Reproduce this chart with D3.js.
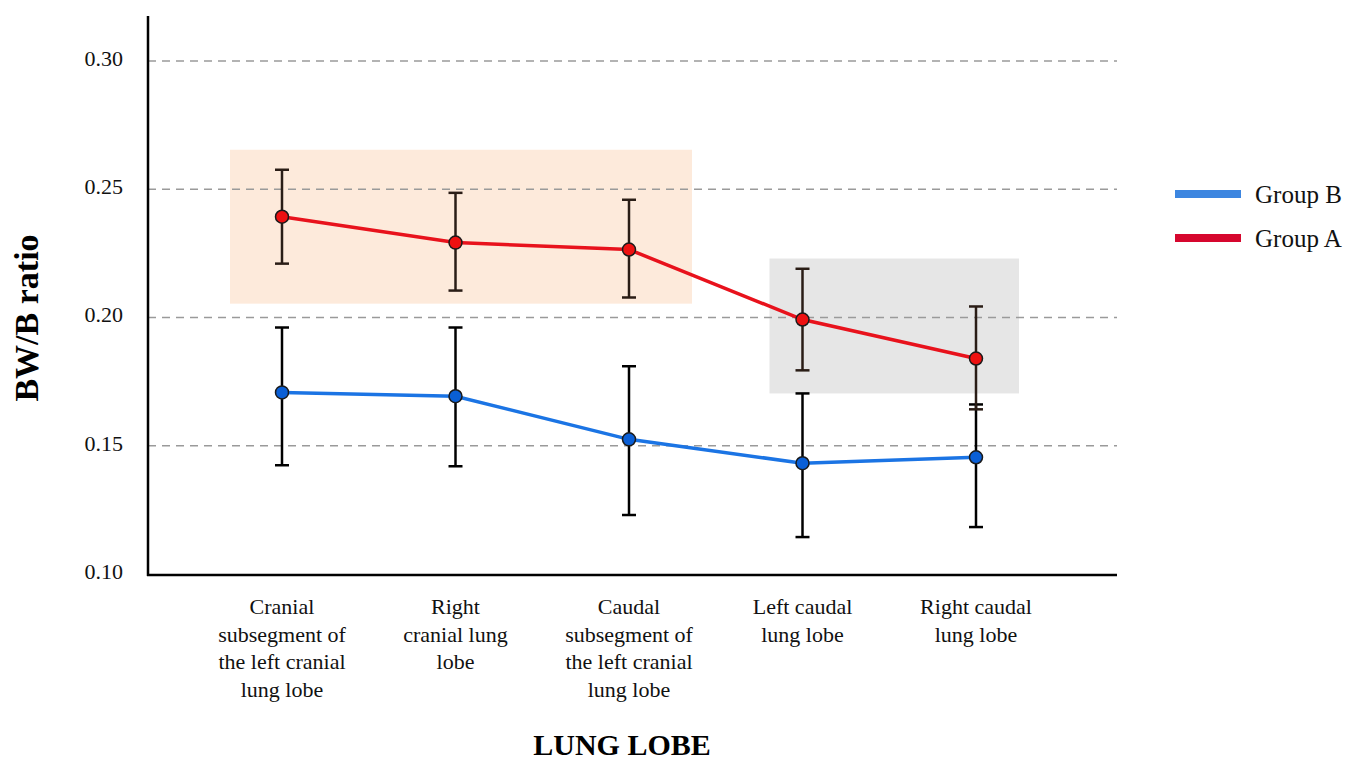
<!DOCTYPE html>
<html><head><meta charset="utf-8">
<script src="https://cdn.jsdelivr.net/npm/d3@7"></script>
<style>body{margin:0;background:#fff}svg{display:block}</style>
</head><body>
<svg id="c" width="1348" height="763"></svg>
<script>
const categories = [
  ["Cranial","subsegment of","the left cranial","lung lobe"],
  ["Right","cranial lung","lobe"],
  ["Caudal","subsegment of","the left cranial","lung lobe"],
  ["Left caudal","lung lobe"],
  ["Right caudal","lung lobe"]
];
const groupA = [0.2393, 0.2292, 0.2265, 0.1992, 0.1840];
const groupAHigh = [0.2576, 0.2486, 0.2459, 0.2190, 0.2043];
const groupALow = [0.2210, 0.2105, 0.2078, 0.1794, 0.1642];
const groupB = [0.1708, 0.1693, 0.1525, 0.1432, 0.1455];
const groupBHigh = [0.1961, 0.1961, 0.1810, 0.1704, 0.1661];
const groupBLow = [0.1424, 0.1420, 0.1230, 0.1144, 0.1183];
const yTicks = [0.10, 0.15, 0.20, 0.25, 0.30];
const legendLabels = ["Group B", "Group A"];
const highlightA = {from: 0, to: 2, top: 0.2654, bottom: 0.2054};
const highlightB = {from: 3, to: 4, top: 0.2230, bottom: 0.1704};

const svg = d3.select("#c");
const x = d3.scalePoint().domain(d3.range(categories.length)).range([282, 976]);
const y = d3.scaleLinear().domain([0.10, 0.30]).range([574, 61]);
const font = "'Liberation Serif','Times New Roman',serif";

// highlight boxes
svg.append("rect").attr("x", x(highlightA.from) - 52).attr("width", x(highlightA.to) - x(highlightA.from) + 115)
  .attr("y", y(highlightA.top)).attr("height", y(highlightA.bottom) - y(highlightA.top)).attr("fill", "#fdeadb");
svg.append("rect").attr("x", x(highlightB.from) - 33).attr("width", x(highlightB.to) - x(highlightB.from) + 76)
  .attr("y", y(highlightB.top)).attr("height", y(highlightB.bottom) - y(highlightB.top)).attr("fill", "#e6e6e6");

// gridlines
svg.append("g").selectAll("line").data(yTicks.slice(1)).join("line")
  .attr("x1", 148).attr("x2", 1117).attr("y1", d => y(d)).attr("y2", d => y(d))
  .attr("stroke", "#9a9a9a").attr("stroke-width", 1.6).attr("stroke-dasharray", "8,6");

// axes
const yAxis = svg.append("g").attr("transform", "translate(148,0)")
  .call(d3.axisLeft(y).tickValues(yTicks).tickFormat(d3.format(".2f")).tickSize(0).tickPadding(25));
yAxis.select(".domain").remove();
yAxis.selectAll("text").attr("font-family", font).attr("font-size", 22).attr("fill", "#111").attr("dy", "0.2em");
svg.append("line").attr("x1", 148).attr("x2", 148).attr("y1", 16).attr("y2", 576).attr("stroke", "#000").attr("stroke-width", 2.5);
svg.append("line").attr("x1", 147).attr("x2", 1117).attr("y1", 575).attr("y2", 575).attr("stroke", "#000").attr("stroke-width", 2.5);

// category labels
const cat = svg.append("g");
categories.forEach((lines, i) => {
  const t = cat.append("text").attr("x", x(i)).attr("y", 614).attr("text-anchor", "middle")
    .attr("font-family", font).attr("font-size", 22).attr("fill", "#111");
  lines.forEach((l, j) => t.append("tspan").attr("x", x(i)).attr("dy", j === 0 ? 0 : 27.5).text(l));
});

// titles
svg.append("text").attr("x", 622).attr("y", 755).attr("text-anchor", "middle")
  .attr("font-family", font).attr("font-weight", "bold").attr("font-size", 30).text("LUNG LOBE");
svg.append("text").attr("transform", "translate(38,318) rotate(-90)").attr("text-anchor", "middle")
  .attr("font-family", font).attr("font-weight", "bold").attr("font-size", 34).text("BW/B ratio");

function drawSeries(vals, hi, lo, lineColor, dotColor, errColor) {
  const g = svg.append("g");
  g.selectAll("line.err").data(vals).join("line").attr("class", "err")
    .attr("x1", (d, i) => x(i)).attr("x2", (d, i) => x(i)).attr("y1", (d, i) => y(hi[i])).attr("y2", (d, i) => y(lo[i]))
    .attr("stroke", errColor).attr("stroke-width", 2.5);
  [hi, lo].forEach(arr => {
    g.selectAll(null).data(arr).join("line")
      .attr("x1", (d, i) => x(i) - 7).attr("x2", (d, i) => x(i) + 7).attr("y1", d => y(d)).attr("y2", d => y(d))
      .attr("stroke", errColor).attr("stroke-width", 2.5);
  });
  g.append("path").datum(vals).attr("fill", "none").attr("stroke", lineColor).attr("stroke-width", 3.5)
    .attr("d", d3.line().x((d, i) => x(i)).y(d => y(d)));
  g.selectAll("circle").data(vals).join("circle").attr("cx", (d, i) => x(i)).attr("cy", d => y(d)).attr("r", 6.5)
    .attr("fill", dotColor).attr("stroke", "#1a1a1a").attr("stroke-width", 1.5);
}
drawSeries(groupB, groupBHigh, groupBLow, "#1b74e4", "#0a5fd6", "#000");
drawSeries(groupA, groupAHigh, groupALow, "#e8121c", "#ee1111", "#2a1d16");

// legend
const legendColors = ["#3d86e0", "#d6072e"];
legendLabels.forEach((l, i) => {
  const yy = 194 + i * 44;
  svg.append("line").attr("x1", 1175).attr("x2", 1241).attr("y1", yy).attr("y2", yy)
    .attr("stroke", legendColors[i]).attr("stroke-width", 8);
  svg.append("text").attr("x", 1255).attr("y", yy + 9).attr("font-family", font).attr("font-size", 25)
    .attr("fill", "#111").text(l);
});
</script>
</body></html>
